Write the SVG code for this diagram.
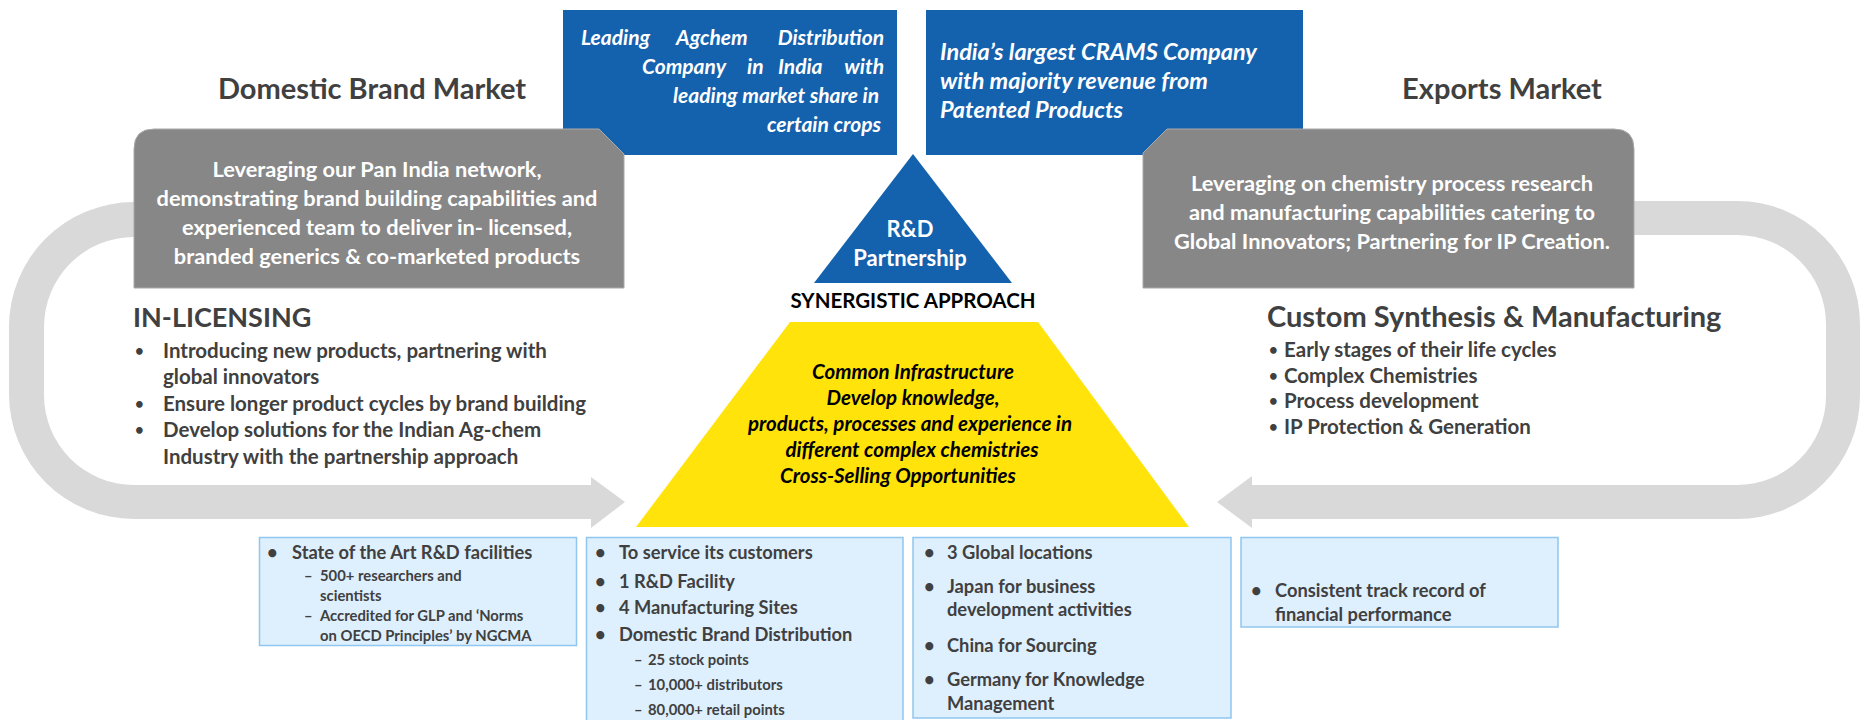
<svg xmlns="http://www.w3.org/2000/svg" width="1862" height="720" viewBox="0 0 1862 720">
<style>
text{font-family:Lato,"Liberation Sans",sans-serif;font-weight:bold}
.hd{font-size:29px;fill:#404040}
.gt{font-size:21.8px;fill:#fff;text-anchor:middle}
.bt{font-size:21px;fill:#fff;font-style:italic}
.bt2{font-size:23.5px;fill:#fff;font-style:italic}
.bl{font-size:20.5px;fill:#404040}
.dot{font-size:15px;fill:#404040}
.yt{font-size:20.5px;fill:#000;font-style:italic;text-anchor:middle}
.bx{font-size:18.3px;fill:#404040}
.sb{font-size:14.8px;fill:#404040}
.band{fill:#D9D9D9}
.blue{fill:#1461AE}
.gray{fill:#878787;stroke:#A9A9A9;stroke-width:1}
.lb{fill:#DEEFFE;stroke:#90C6F0;stroke-width:1.5}
</style>
<rect width="1862" height="720" fill="#fff"/>
<g id="connectors">
<path class="band" d="M160,202 L134,202 A125,125 0 0 0 9,327 L9,394 A125,125 0 0 0 134,519 L591,519 L591,528 L625,502 L591,477 L591,485 L134,485 A90,90 0 0 1 44,395 L44,327 A90,90 0 0 1 134,237 L160,237 Z"/>
<path class="band" d="M1610,201 L1737,201 A123,123 0 0 1 1860,324 L1860,396 A123,123 0 0 1 1737,519 L1252,519 L1252,528 L1217,502 L1252,476 L1252,485 L1737,485 A89,89 0 0 0 1826,396 L1826,324 A89,89 0 0 0 1737,235 L1610,235 Z"/>
</g>
<g id="title-domestic"><text class="hd" x="372" y="99" text-anchor="middle">Domestic Brand Market</text></g>
<g id="title-exports"><text class="hd" x="1502" y="99" text-anchor="middle">Exports Market</text></g>
<g id="blue-agchem">
<rect class="blue" x="563" y="10" width="334" height="145"/>
<text class="bt" y="45"><tspan x="581">Leading</tspan><tspan x="676">Agchem</tspan><tspan x="884" text-anchor="end">Distribution</tspan></text>
<text class="bt" y="74"><tspan x="642">Company</tspan><tspan x="747">in</tspan><tspan x="778">India</tspan><tspan x="884" text-anchor="end">with</tspan></text>
<text class="bt" x="879" y="103" text-anchor="end">leading market  share in</text>
<text class="bt" x="881" y="132" text-anchor="end">certain crops</text>
</g>
<g id="blue-crams">
<rect class="blue" x="926" y="10" width="377" height="145"/>
<text class="bt2" x="940" y="60">India’s largest CRAMS Company</text>
<text class="bt2" x="940" y="89">with majority revenue from</text>
<text class="bt2" x="940" y="118">Patented Products</text>
</g>
<g id="gray-domestic">
<path class="gray" d="M154,129 L599,129 L624,154 L624,288 L134,288 L134,149 Q134,129 154,129 Z"/>
<text class="gt" x="377" y="177">Leveraging our Pan India network,</text>
<text class="gt" x="377" y="206">demonstrating brand building capabilities and</text>
<text class="gt" x="377" y="235">experienced team to deliver in- licensed,</text>
<text class="gt" x="377" y="264">branded generics &amp; co-marketed  products</text>
</g>
<g id="gray-exports">
<path class="gray" d="M1167,129 L1614,129 Q1634,129 1634,149 L1634,288 L1143,288 L1143,153 Z"/>
<text class="gt" x="1392" y="191">Leveraging on chemistry process research</text>
<text class="gt" x="1392" y="220">and manufacturing capabilities catering to</text>
<text class="gt" x="1392" y="249">Global Innovators; Partnering for IP  Creation.</text>
</g>
<g id="rd-triangle">
<polygon class="blue" points="913,154 1012,283 814,283"/>
<text x="910" y="237" text-anchor="middle" style="font-size:22px;fill:#fff">R&amp;D</text>
<text x="910" y="266" text-anchor="middle" style="font-size:22px;fill:#fff">Partnership</text>
</g>
<g id="synergistic"><text x="913" y="308" text-anchor="middle" style="font-size:20.5px;fill:#000">SYNERGISTIC APPROACH</text></g>
<g id="yellow-trapezoid">
<polygon points="790,322 1038,322 1189,527 636,527" fill="#FFE30A"/>
<text class="yt" x="913" y="379">Common Infrastructure</text>
<text class="yt" x="913" y="405">Develop knowledge,</text>
<text class="yt" x="910" y="431">products, processes and experience in</text>
<text class="yt" x="912" y="457">different complex chemistries</text>
<text class="yt" x="898" y="483">Cross-Selling Opportunities</text>
</g>
<g id="in-licensing">
<text x="133" y="327" style="font-size:27px;fill:#404040">IN-LICENSING</text>
<text class="dot" x="135" y="356">•</text><text class="bl" x="163" y="358">Introducing new products, partnering with</text>
<text class="bl" x="163" y="384">global innovators</text>
<text class="dot" x="135" y="409">•</text><text class="bl" x="163" y="411">Ensure longer product cycles by brand building</text>
<text class="dot" x="135" y="435">•</text><text class="bl" x="163" y="437">Develop solutions for the Indian Ag-chem</text>
<text class="bl" x="163" y="464">Industry with the partnership approach</text>
</g>
<g id="custom-synthesis">
<text class="hd" x="1267" y="327">Custom Synthesis &amp; Manufacturing</text>
<text class="dot" x="1269" y="355">•</text><text class="bl" x="1284" y="357">Early stages of their life cycles</text>
<text class="dot" x="1269" y="381">•</text><text class="bl" x="1284" y="383">Complex Chemistries</text>
<text class="dot" x="1269" y="406">•</text><text class="bl" x="1284" y="408">Process development</text>
<text class="dot" x="1269" y="432">•</text><text class="bl" x="1284" y="434">IP Protection &amp; Generation</text>
</g>
<g id="box-rd">
<rect class="lb" x="259.5" y="537.5" width="317" height="108"/>
<text class="bx" x="267" y="559">•</text><text class="bx" x="292" y="559">State of the Art R&amp;D facilities</text>
<text class="sb" x="304" y="581">–</text><text class="sb" x="320" y="581">500+ researchers and</text>
<text class="sb" x="320" y="601">scientists</text>
<text class="sb" x="304" y="621">–</text><text class="sb" x="320" y="621">Accredited for GLP and ‘Norms</text>
<text class="sb" x="320" y="641">on OECD  Principles’ by NGCMA</text>
</g>
<g id="box-service">
<rect class="lb" x="586.5" y="537.5" width="316.5" height="190"/>
<text class="bx" x="595" y="559">•</text><text class="bx" x="619" y="559">To service its customers</text>
<text class="bx" x="595" y="588">•</text><text class="bx" x="619" y="588">1 R&amp;D Facility</text>
<text class="bx" x="595" y="614">•</text><text class="bx" x="619" y="614">4 Manufacturing Sites</text>
<text class="bx" x="595" y="641">•</text><text class="bx" x="619" y="641">Domestic Brand Distribution</text>
<text class="sb" x="634" y="665">–</text><text class="sb" x="648" y="665">25 stock points</text>
<text class="sb" x="634" y="690">–</text><text class="sb" x="648" y="690">10,000+ distributors</text>
<text class="sb" x="634" y="715">–</text><text class="sb" x="648" y="715">80,000+ retail points</text>
</g>
<g id="box-global">
<rect class="lb" x="913" y="537.5" width="318" height="180.5"/>
<text class="bx" x="924" y="559">•</text><text class="bx" x="947" y="559">3 Global locations</text>
<text class="bx" x="924" y="593">•</text><text class="bx" x="947" y="593">Japan for business</text>
<text class="bx" x="947" y="616">development activities</text>
<text class="bx" x="924" y="652">•</text><text class="bx" x="947" y="652">China for Sourcing</text>
<text class="bx" x="924" y="686">•</text><text class="bx" x="947" y="686">Germany for Knowledge</text>
<text class="bx" x="947" y="710">Management</text>
</g>
<g id="box-financial">
<rect class="lb" x="1241" y="537.5" width="317" height="89.5"/>
<text class="bx" x="1251" y="597">•</text><text class="bx" x="1275" y="597">Consistent track record of</text>
<text class="bx" x="1275" y="621">financial performance</text>
</g>
</svg>
